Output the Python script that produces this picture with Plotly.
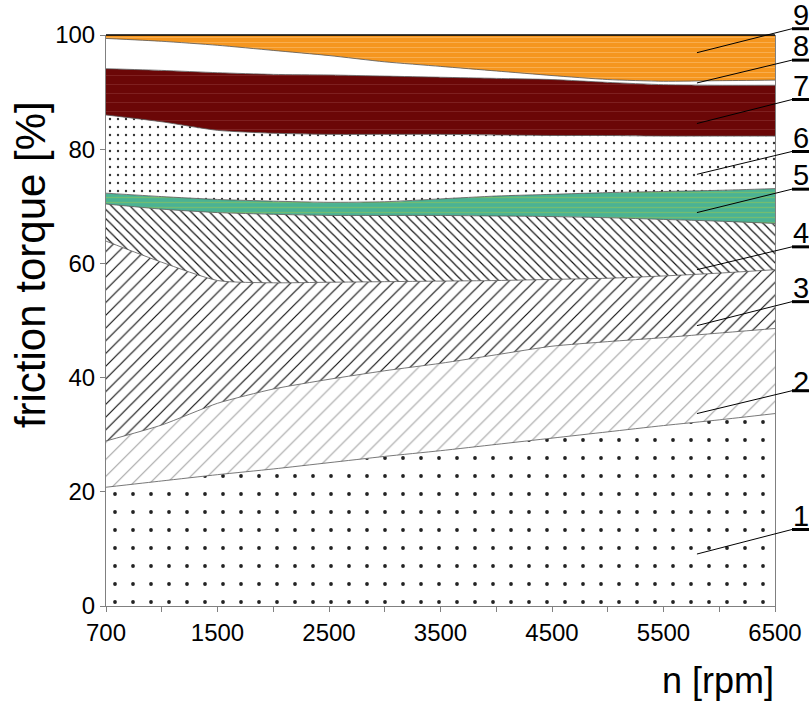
import plotly.graph_objects as go

# ---------------- data ----------------
rpm = ['700', '1000', '1500', '2000', '2500', '3000', '3500',
       '4000', '4500', '5000', '5500', '6000', '6500']
rpm_tick_labels = ['700', '', '1500', '', '2500', '', '3500',
                   '', '4500', '', '5500', '', '6500']

layer1 = [20.8, 21.9, 23.0, 24.0, 25.1, 26.2, 27.2, 28.3, 29.4, 30.5, 31.6, 32.6, 33.7]
layer2 = [8.1, 9.8, 12.5, 14.0, 14.6, 15.0, 15.3, 15.7, 16.1, 15.8, 15.4, 15.2, 14.9]
layer3 = [35.0, 28.5, 21.5, 18.6, 17.0, 15.6, 14.4, 13.0, 11.7, 11.1, 10.8, 10.5, 10.3]
layer4 = [6.5, 9.3, 11.9, 12.0, 11.7, 11.6, 11.5, 11.3, 11.0, 10.6, 9.9, 9.1, 8.1]
layer5 = [1.9, 2.2, 2.3, 2.3, 2.3, 2.4, 2.9, 3.5, 3.9, 4.4, 4.9, 5.4, 6.1]
layer6 = [13.7, 13.1, 12.1, 11.9, 11.9, 11.8, 11.3, 10.7, 10.3, 10.0, 9.7, 9.5, 9.2]
layer7 = [8.1, 9.0, 10.1, 10.3, 10.4, 10.2, 10.0, 9.9, 9.8, 9.3, 9.0, 8.9, 8.9]
layer8 = [5.3, 5.1, 4.8, 4.2, 3.4, 2.5, 1.9, 1.3, 0.7, 0.5, 0.6, 0.8, 0.9]
layer9 = [0.6, 1.1, 1.8, 2.7, 3.6, 4.7, 5.5, 6.3, 7.1, 7.8, 8.1, 8.0, 7.9]

layer_names = ['1', '2', '3', '4', '5', '6', '7', '8', '9']
y_ticks = [0, 20, 40, 60, 80, 100]

# ---------------- styles ----------------
layers = [layer1, layer2, layer3, layer4, layer5, layer6, layer7, layer8, layer9]
patterns = [
    dict(shape='.', bgcolor='white', fgcolor='#222222', size=18, solidity=0.035),
    dict(shape='/', bgcolor='white', fgcolor='#444444', fgopacity=0.5, size=12, solidity=0.09),
    dict(shape='/', bgcolor='white', fgcolor='#111111', size=9, solidity=0.13),
    dict(shape='\\', bgcolor='white', fgcolor='#111111', size=6.5, solidity=0.18),
    dict(shape='-', bgcolor='#4BB293', fgcolor='#8CC45C', fgopacity=0.6, size=5, solidity=0.25),
    dict(shape='.', bgcolor='white', fgcolor='#333333', size=8, solidity=0.07),
    dict(shape='-', bgcolor='#6B0707', fgcolor='#A65454', fgopacity=0.45, size=9, solidity=0.08),
    dict(shape='', bgcolor='white'),
    dict(shape='-', bgcolor='#F5961F', fgcolor='#FBBE70', fgopacity=0.6, size=5, solidity=0.2),
]
fillcolors = ['white', 'white', 'white', 'white', '#4BB293', 'white', '#6B0707', 'white', '#F5961F']

FONT = 'Liberation Sans, Arial, Helvetica, sans-serif'

fig = go.Figure()
for name, vals, pat, fc in zip(layer_names, layers, patterns, fillcolors):
    tr = dict(x=rpm, y=vals, name=name, mode='lines', stackgroup='one',
              line=dict(color='#555555', width=0.8, shape='spline', smoothing=0.6),
              fillcolor=fc, hoverinfo='skip', showlegend=False)
    if pat['shape']:
        tr['fillpattern'] = pat
    fig.add_trace(go.Scatter(**tr))

# label positions (layout, in y units / x index)
label_text_y = [15.7, 39.2, 55.7, 65.3, 75.5, 81.9, 91.1, 98.1, 103.5]
label_bar_y = [13.4, 37.7, 53.3, 62.9, 73.0, 79.6, 88.7, 95.6, 101.1]
leader_end_y = [9.1, 33.7, 49.1, 58.9, 68.9, 75.6, 84.5, 91.6, 96.9]
leader_end_x = 10.6 / 12.0
bar_x0, bar_x1 = 1.0254, 1.0508
label_x = 1.0389

shapes = []
annotations = []
for name, ty, by, ey in zip(layer_names, label_text_y, label_bar_y, leader_end_y):
    shapes.append(dict(type='line', xref='paper', yref='paper',
                       x0=bar_x0, x1=leader_end_x, y0=by / 100, y1=ey / 100,
                       line=dict(color='black', width=1)))
    shapes.append(dict(type='line', xref='paper', yref='paper',
                       x0=bar_x0, x1=bar_x1, y0=by / 100, y1=by / 100,
                       line=dict(color='black', width=3)))
    annotations.append(dict(text=name, xref='paper', yref='paper', x=label_x, y=ty / 100,
                            xanchor='center', yanchor='middle', showarrow=False,
                            font=dict(family=FONT, size=29, color='black')))

# top border (black)
shapes.append(dict(type='line', xref='paper', yref='paper', x0=0, x1=1, y0=1, y1=1,
                   line=dict(color='black', width=1.5)))

annotations.append(dict(text='friction torque [%]', xref='paper', yref='paper',
                        x=-0.1136, y=0.597, textangle=-90, xanchor='center', yanchor='middle',
                        showarrow=False, font=dict(family=FONT, size=42, color='black')))
annotations.append(dict(text='n [rpm]', xref='paper', yref='paper',
                        x=0.915, y=-0.131, xanchor='center', yanchor='middle',
                        showarrow=False, font=dict(family=FONT, size=36, color='black')))

fig.update_layout(
    width=809, height=705,
    margin=dict(l=106, r=34, t=35, b=99),
    template='none',
    paper_bgcolor='white', plot_bgcolor='white',
    font=dict(family=FONT, size=24, color='black'),
    shapes=shapes, annotations=annotations,
    xaxis=dict(type='category', range=[0, 12], tickmode='array', tickvals=rpm,
               ticktext=rpm_tick_labels, ticks='outside', ticklen=5, tickcolor='#808080',
               showline=True, linecolor='#808080', linewidth=1, showgrid=False, zeroline=False,
               tickfont=dict(family=FONT, size=24, color='black')),
    yaxis=dict(range=[0, 100], tickmode='array', tickvals=y_ticks, ticks='outside',
               ticklen=5, tickcolor='#808080', showline=True, mirror=True,
               linecolor='#808080', linewidth=1, showgrid=False, zeroline=False,
               tickfont=dict(family=FONT, size=24, color='black')),
)

fig.write_html('out.html')
